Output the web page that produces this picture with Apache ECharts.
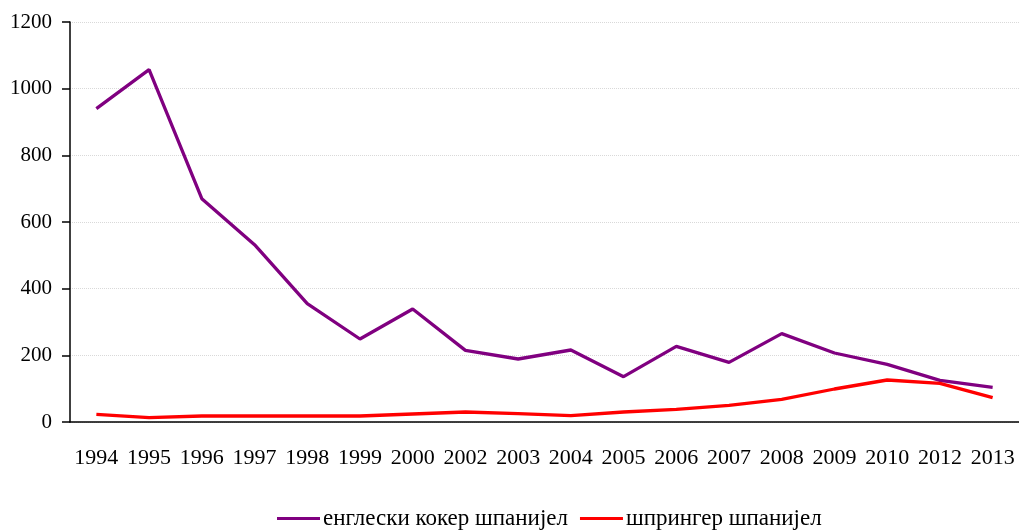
<!DOCTYPE html>
<html>
<head>
<meta charset="utf-8">
<script src="https://cdn.jsdelivr.net/npm/echarts@6/dist/echarts.min.js"></script>
<style>html,body{margin:0;padding:0;background:#fff;}#c{width:1019px;height:530px;}</style>
</head>
<body>
<div id="c"></div>
<script>
var years = ['1994','1995','1996','1997','1998','1999','2000','2002','2003','2004','2005','2006','2007','2008','2009','2010','2012','2013'];
var cocker = [940,1057,670,532,355,249,339,215,189,216,136,227,179,265,207,173,125,104];
var springer = [23,13,18,18,18,18,24,30,25,19,30,38,50,68,99,126,116,73];
var seriesNames = ['енглески кокер шпанијел','шпрингер шпанијел'];
var yTicks = {min:0, max:1200, interval:200};

var font = 'Liberation Serif';
var chart = echarts.init(document.getElementById('c'));
chart.setOption({
  animation: false,
  backgroundColor: '#fff',
  grid: {left: 70, top: 22, right: -7, bottom: 108, containLabel: false},
  legend: {
    top: 502, left: 272,
    icon: 'rect', itemWidth: 43, itemHeight: 3, itemGap: 12,
    textStyle: {fontFamily: font, fontSize: 23, color: '#000', padding: [0,0,0,-2]},
    data: seriesNames
  },
  xAxis: {
    type: 'category', data: years, boundaryGap: true,
    axisLine: {lineStyle: {color: '#000', width: 1.5}},
    axisTick: {length: 7, lineStyle: {color: '#000', width: 1.5}, alignWithLabel: false},
    axisLabel: {fontFamily: font, fontSize: 22, color: '#000', margin: 25, interval: 0},
    splitLine: {show: false}
  },
  yAxis: {
    type: 'value', min: yTicks.min, max: yTicks.max, interval: yTicks.interval,
    axisLine: {show: true, lineStyle: {color: '#000', width: 1.5}},
    axisTick: {show: true, length: 8, lineStyle: {color: '#000', width: 1.5}},
    axisLabel: {fontFamily: font, fontSize: 21, color: '#000', margin: 18, formatter: function(v){return String(v);}},
    splitLine: {show: true, lineStyle: {color: '#d9d9d9', type: 'dotted', width: 1}}
  },
  series: [
    {name: seriesNames[0], type: 'line', data: cocker, symbol: 'none', lineStyle: {color: '#800080', width: 3.3}, itemStyle: {color: '#800080'}},
    {name: seriesNames[1], type: 'line', data: springer, symbol: 'none', lineStyle: {color: '#ff0000', width: 3.3}, itemStyle: {color: '#ff0000'}}
  ]
});
</script>
</body>
</html>
